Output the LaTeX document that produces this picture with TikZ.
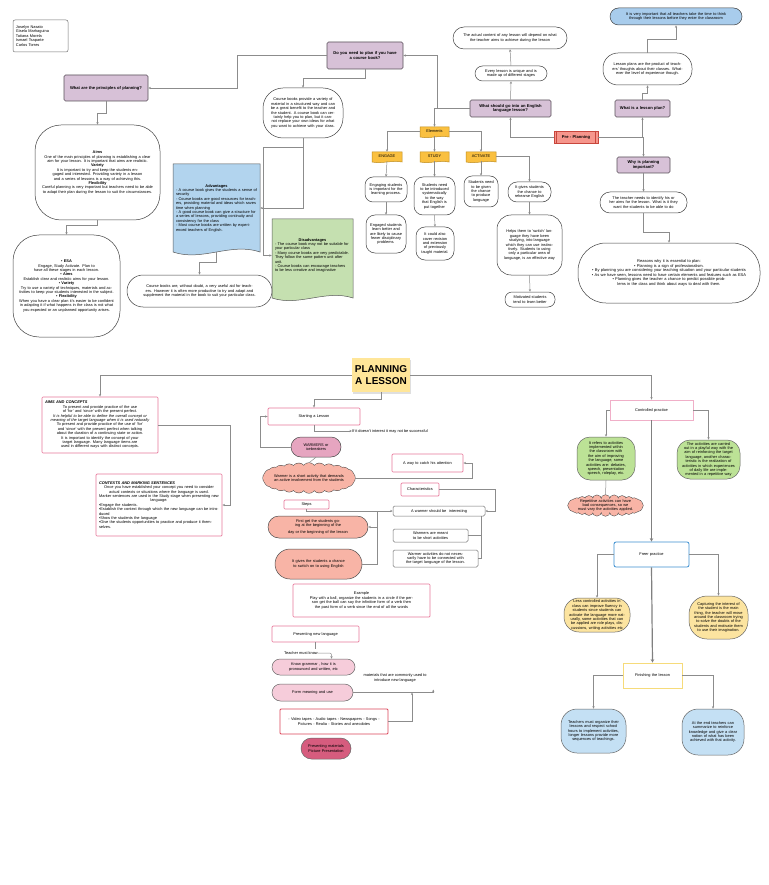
\documentclass[tikz,border=0pt]{standalone}
\usepackage{fontspec}
\setmainfont{Liberation Sans}
\usetikzlibrary{arrows.meta,calc,shapes.misc,shadows}
\definecolor{linec}{RGB}{140,140,140}
\definecolor{purp}{RGB}{215,193,215}
\definecolor{purpd}{RGB}{90,80,90}
\definecolor{bluead}{RGB}{178,212,238}
\definecolor{greend}{RGB}{197,224,176}
\definecolor{blueimp}{RGB}{168,204,236}
\definecolor{salm}{RGB}{246,150,140}
\definecolor{salmd}{RGB}{200,70,60}
\definecolor{ylw}{RGB}{250,192,64}
\definecolor{ylwd}{RGB}{190,140,30}
\definecolor{pinkb}{RGB}{232,120,155}
\definecolor{wpink}{RGB}{230,165,192}
\definecolor{cloudc}{RGB}{248,180,166}
\definecolor{lpink}{RGB}{246,204,218}
\definecolor{dpink}{RGB}{214,92,126}
\definecolor{titlec}{RGB}{255,230,153}
\definecolor{gact}{RGB}{188,226,150}
\definecolor{yact}{RGB}{252,228,160}
\definecolor{bact}{RGB}{196,224,244}
\definecolor{freeb}{RGB}{60,143,208}
\definecolor{finb}{RGB}{246,219,122}
\definecolor{ctrlb}{RGB}{240,175,200}
\definecolor{videob}{RGB}{220,70,90}
\newcommand\fsm{\fontsize{3.9}{4.4}\selectfont}
\newcommand\fsb{\fontsize{4.1}{4.8}\selectfont\bfseries}
\newcommand\mybx[8][3]{%
 \pgfmathsetmacro\mbw{#5-#3}\pgfmathsetmacro\mbh{#6-#4}%
 \pgfmathsetmacro\mbcx{(#3+#5)/2}\pgfmathsetmacro\mbcy{(#4+#6)/2}%
 \pgfmathsetmacro\mbtw{#5-#3-2*#1}%
 \node[bs,#7,minimum width=\mbw pt,minimum height=\mbh pt,text width=\mbtw pt] (#2) at (\mbcx,\mbcy) {#8};}
\newcommand\mydoc[6]{%
 \draw[#6] (#1,#2) -- (#3,#2) -- (#3,#4) .. controls ({#1+(#3-#1)*2/3},{#4-#5}) and ({#1+(#3-#1)/3},{#4+#5}) .. (#1,#4) -- cycle;}
\newcommand\mycloud[5]{%
 \pgfmathsetmacro\ccx{(#1+#3)/2}\pgfmathsetmacro\ccy{(#2+#4)/2}%
 \pgfmathsetmacro\cra{(#3-#1)/2}\pgfmathsetmacro\crb{(#4-#2)/2}%
 \pgfmathsetmacro\cpr{\crb*0.42}%
 \pgfmathsetmacro\cea{\cra-\cpr}\pgfmathsetmacro\ceb{\crb-\cpr}%
 \foreach \ang in {0,15,...,345}{\filldraw[draw=black!70,line width=1pt,fill=#5] ({\ccx+\cea*cos(\ang)},{\ccy+\ceb*sin(\ang)}) circle[radius=\cpr pt];}%
 \foreach \ang in {0,15,...,345}{\fill[#5] ({\ccx+\cea*cos(\ang)},{\ccy+\ceb*sin(\ang)}) circle[radius=\cpr pt];}%
 \fill[#5] (\ccx,\ccy) ellipse[x radius=\cea pt, y radius=\ceb pt];}
\begin{document}
\begin{tikzpicture}[x=1pt,y=-1pt,
 bs/.style={inner sep=0pt,align=center,font=\fsm},
 purpbox/.style={draw=purpd,fill=purp,rounded corners=1.5pt,font=\fsb,line width=.6pt},
 blob/.style={draw=black!75,fill=white,line width=.5pt,rounded corners=#1pt},
 pbox/.style={draw=pinkb,fill=white,line width=.7pt,rounded corners=1pt},
 gbox/.style={draw=black!55,fill=white,line width=.5pt,rounded corners=1.5pt},
 ydoc/.style={draw=ylwd,fill=ylw,line width=.5pt},
 line/.style={draw=linec,line width=.5pt},
 arr/.style={line,-{Stealth[length=2.6pt,width=2.2pt]}},
 tarr/.style={draw=black!50,line width=1.2pt,-{Stealth[length=3.5pt,width=3.5pt]}}]
\useasboundingbox (0,0) rectangle (768,885);
\fill[white] (0,0) rectangle (768,885);

% ---------------- TOP HALF ----------------
\mybx[3]{names}{13}{20}{68}{52}{gbox,align=left,rounded corners=2pt}{Joselyn Nasato\\Gisela Marhaguina\\Tatiana Morela\\Ismael Tsaparte\\Carlos Torres}
\mybx[4]{princ}{64}{75}{148}{101}{purpbox}{What are the principles of planning?}
\mybx[2]{aims}{35}{125}{160}{220}{blob=26}{\textbf{Aims}\\One of the main principles of planning is establishing a clear aim for your lesson. It is important that aims are realistic.\\\textbf{Variety}\\It is important to try and keep the students engaged and interested. Providing variety in a lesson and a series of lessons is a way of achieving this.\\\textbf{Flexibility}\\Careful planning is very important but teachers need to be able to adapt their plan during the lesson to suit the circumstances.}
\mybx[3]{esa}{13}{235}{120}{337}{blob=26}{\textbf{• ESA}\\Engage, Study Activate. Plan to have all these stages in each lesson.\\\textbf{• Aims}\\Establish clear and realistic aims for your lesson.\\\textbf{• Variety}\\Try to use a variety of techniques, materials and activities to keep your students interested in the subject.\\\textbf{• Flexibility}\\When you have a clear plan it's easier to be confident in adapting it if what happens in the class is not what you expected or an unplanned opportunity arises.}
\mybx[4]{dyn}{327}{42}{403}{69}{purpbox}{Do you need to plan if you have\\a course book?}
\mybx[3]{cb}{263}{88}{343}{138}{blob=20}{Course books provide a variety of material in a structured way and can be a great benefit to the teacher and\\the student. A course book can certainly help you to plan, but it cannot replace your own ideas for what you want to achieve with your class.}
\mydoc{173}{164}{260}{252}{10}{draw=black!65,fill=bluead,line width=.5pt}
\mybx[3]{adv}{173}{164}{260}{252}{align=left}{{\centering\textbf{Advantages}\par}- A course book gives the students a sense of security\\- Course books are good resources for teachers, providing material and ideas which saves time when planning\\- A good course book can give a structure for a series of lessons, providing continuity and consistency for the class\\- Most course books are written by experienced teachers of English.}
\mydoc{272}{219}{353}{298}{9}{draw=black!65,fill=greend,line width=.5pt}
\mybx[3]{dis}{272}{219}{353}{292}{align=left}{{\centering\textbf{Disadvantages}\par}- The course book may not be suitable for your particular class\\- Many course books are very predictable. They follow the same pattern unit after unit.\\- Course books can encourage teachers to be less creative and imaginative}
\mybx[6]{cbb}{127}{275}{272}{307}{blob=16}{Course books are, without doubt, a very useful aid for teachers. However it is often more productive to try and adapt and supplement the material in the book to suit your particular class.}

\mybx[4]{wsg}{470}{100}{551}{117}{purpbox}{What should go into an English\\language lesson?}
\mybx[4]{every}{475}{66}{547}{81}{blob=7.5}{Every lesson is unique and is\\made up of different stages}
\mybx[6]{actual}{453}{27}{567}{49}{blob=11}{The actual content of any lesson will depend on what\\the teacher aims to achieve during the lesson}
\mybx[5]{pre}{554}{131}{598}{143}{draw=salmd,fill=salm,line width=.6pt,font=\fsb}{Pre - Planning}
\draw[salmd,line width=.5pt] ($(pre.north west)+(3,0)$) -- ($(pre.south west)+(3,0)$);
\draw[salmd,line width=.5pt] ($(pre.north east)+(-3,0)$) -- ($(pre.south east)+(-3,0)$);
\mybx[3]{wlp}{615}{100}{670}{117}{purpbox}{What is a lesson plan?}
\mybx[5]{lpp}{603}{53}{692}{85}{blob=15}{Lesson plans are the product of teachers' thoughts about their classes. Whatever the level of experience though.}
\mybx[6]{imp}{610}{8}{742}{25}{blob=8.5,fill=blueimp}{It is very important that all teachers take the time to think\\through their lessons before they enter the classroom}
\mybx[3]{why}{617}{157}{670}{173}{purpbox}{Why is planning\\important?}
\mybx[5]{tni}{600}{192}{687}{213}{blob=10}{The teacher needs to identify his or her aims for the lesson. What is it they want the students to be able to do}
\mybx[2]{reasons}{578}{243}{760}{303}{blob=28,font=\fontsize{4}{4.6}\selectfont}{Reasons why it is essential to plan:\\• Planning is a sign of professionalism.\\• By planning you are considering your teaching situation and your particular students\\• As we have seen, lessons need to have certain elements and features such as ESA\\• Planning gives the teacher a chance to predict possible problems in the class and think about ways to deal with them.}

\mydoc{420}{127}{449}{137}{2}{ydoc}
\mybx[1]{elements}{420}{127}{449}{136}{}{Elements}
\mydoc{372}{152}{402}{162}{2}{ydoc}
\mybx[1]{engage}{372}{152}{402}{161}{}{ENGAGE}
\mydoc{420}{152}{449}{162}{2}{ydoc}
\mybx[1]{study}{420}{152}{449}{161}{}{STUDY}
\mydoc{466}{152}{496}{162}{2}{ydoc}
\mybx[1]{activate}{466}{152}{496}{161}{}{ACTIVATE}
\mybx[3]{e1}{365}{177}{407}{202}{blob=8}{Engaging students is important for the learning process.}
\mybx[4]{e2}{366}{215}{406}{253}{blob=9}{Engaged students learn better and are likely to cause fewer disciplinary problems.}
\mybx[4]{s1}{414}{177}{455}{215}{blob=9}{Students need to be introduced systematically to the way that English is put together}
\mybx[4]{s2}{416}{227}{454}{260}{blob=9}{It could also cover revision and extension of previously taught material.}
\mybx[4]{a1}{464}{176}{498}{207}{blob=8}{Students need to be given the chance to produce language}
\mybx[4]{a2}{508}{182}{551}{202}{blob=9}{It gives students the chance to rehearse English}
\mybx[5]{a3}{497}{215}{562}{275}{blob=14}{Helps them to 'switch' language they have been studying, into language which they can use instinctively. Students to using only a particular area of language, is an effective way}
\mybx[4]{a4}{505}{292}{555}{307}{blob=7}{Motivated students tend to learn better}

% top connectors
\draw[arr] (dyn.west) -- (237,55.5) |- (princ.east);
\draw[arr] (princ.south) -- ++(0,12) -| (aims.north);
\draw[arr] (aims.south) -- ++(0,5) -| (esa.north);
\draw[arr] (dyn.south) -- ++(0,9) -| (cb.north);
\draw[arr] (cb.south) |- (adv.east);
\draw[arr] (cb.south) -- ++(0,9) -| ($(dis.west)+(-9,0)$) -- (dis.west);
\draw[arr] (adv.south) -- ++(0,10) -| (cbb.north);
\draw[arr] (wsg.west) -- (437,108.5) |- (dyn.east);
\draw[arr] (wsg.west) -| (elements.north);
\draw[arr] (wsg.north) -- (every.south);
\draw[arr] (every.north) -- (actual.south);
\draw[arr] (pre.west) -| (wsg.south);
\draw[arr] (pre.east) -| (wlp.south);
\draw[arr] (pre.east) -| (why.north);
\draw[arr] (wlp.north) -- ++(0,-6) -| (lpp.south);
\draw[arr] (lpp.north) -- ++(0,-13) -| (imp.south);
\draw[arr] (why.south) -- (tni.north);
\draw[arr] (tni.south) -- ++(0,19) -| (reasons.north);
\draw[arr] (elements.west) -| (engage.north);
\draw[arr] (elements.south) -- (study.north);
\draw[arr] (elements.east) -| (activate.north);
\draw[arr] (engage.south) -- (e1.north);
\draw[arr] (e1.south) -- (e2.north);
\draw[arr] (study.south) -- (s1.north);
\draw[arr] (s1.south) -- (s2.north);
\draw[arr] (activate.south) -- (a1.north);
\draw[arr] (activate.east) -| (a2.north);
\draw[arr] (a2.south) -- (a3.north);
\draw[arr] (a3.south) -- (a4.north);

% ---------------- BOTTOM HALF ----------------
\mybx[2]{title}{352}{358}{410}{392}{fill=titlec,drop shadow={opacity=.25,shadow xshift=.8pt,shadow yshift=-1.5pt},font=\fontsize{10}{12}\selectfont\bfseries}{PLANNING\\A LESSON}
\mybx[3]{aimsc}{42}{397}{158}{453}{pbox}{{\raggedright\bfseries\itshape AIMS AND CONCEPTS\par}To present and provide practice of the use of 'for' and 'since' with the present perfect.\\{\itshape It is helpful to be able to define the overall concept or meaning of the target language when it is used naturally}\\To present and provide practice of the use of 'for' and 'since' with the present perfect when talking about the duration of a continuing state or action.\\It is important to identify the concept of your target language. Many language items are used in different ways with distinct concepts.}
\mybx[3]{ctx}{96}{474}{222}{536}{pbox,align=left}{{\bfseries\itshape CONTEXTS AND MARKING SENTENCES\par}{\centering Once you have established your concept you need to consider actual contexts or situations where the language is used.\\Marker sentences are used in the Study stage when presenting new language.\par}•Engage the students.\\•Establish the context through which the new language can be introduced\\•Show the students the language\\•Give the students opportunities to practice and produce it themselves.}
\mybx{start}{268}{408}{360}{425}{pbox}{Starting a Lesson}
\node[bs,anchor=west] (noint) at (352,431) {If it doesn't interest it may not be successful};
\mybx[4]{warmers}{291}{437}{341}{457}{draw=black!70,fill=wpink,rounded corners=10pt,line width=.5pt}{WARMERS or\\icebreakers}
\mycloud{263}{463}{355}{493}{cloudc}
\mybx[6]{cloud1}{263}{463}{355}{493}{}{Warmer is a short activity that demands an active involvement from the students}
\mybx{catch}{392}{454}{463}{472}{pbox}{A way to catch his attention}
\mybx{charac}{401}{483}{439}{496}{pbox}{Characteristics}
\mybx{steps}{284}{500}{329}{509}{pbox}{Steps}
\mybx{winter}{393}{506}{485}{516}{gbox}{A warmer should be \ interesting}
\mybx[6]{first}{268}{516}{368}{538}{draw=black!70,fill=cloudc,rounded corners=11pt,line width=.5pt}{First get the students going at the beginning of the\\[3pt]day or the beginning of the lesson}
\mybx[6]{gives}{275}{549}{362}{579}{draw=black!70,fill=cloudc,rounded corners=15pt,line width=.5pt}{It gives the students a chance to switch on to using English}
\mybx[4]{short}{393}{529}{468}{542}{gbox}{Warmers are meant to be short activities}
\mybx[3]{notnec}{393}{550}{478}{567}{gbox}{Warmer activities do not necessarily have to be connected with the target language of the lesson.}
\mybx[6]{example}{293}{584}{430}{617}{pbox}{Example\\Play with a ball, organize the students in a circle if the person get the ball can say the infinitive form of a verb then the past form of a verb since the end of all the words}
\mybx{present}{272}{626}{359}{642}{pbox}{Presenting new language}
\node[bs,anchor=west] (tmk) at (284,653) {Teacher must know};
\mybx[6]{know}{272}{659}{355}{675}{draw=black!60,fill=lpink,rounded corners=8pt,line width=.5pt}{Know grammar , how it is\\pronounced and written, etc}
\mybx[6]{form}{272}{684}{353}{701}{draw=black!60,fill=lpink,rounded corners=8.5pt,line width=.5pt}{Form meaning and use}
\node[bs] (matl) at (395,678) {materials that are commonly used to\\introduce new language};
\mybx[4]{video}{280}{709}{388}{734}{draw=videob,line width=.8pt,rounded corners=1pt,fill=white}{- Video tapes - Audio tapes - Newspapers - Songs -\\Pictures - Realia - Stories and anecdotes}
\mybx[3]{pmat}{301}{738}{351}{759}{draw=black!60,fill=dpink,rounded corners=10.5pt,line width=.5pt}{Presenting materials\\Picture Presentation}

\mybx{ctrl}{610}{400}{693}{420}{draw=ctrlb,line width=.7pt,fill=white}{Controlled practice}
\mybx[5]{g1}{577}{437}{635}{480}{draw=black!60,fill=gact,rounded corners=13pt,line width=.5pt}{It refers to activities implemented within the classroom with the aim of improving the language, some activities are: debates, speech, presentation speech, roleplay, etc.}
\mybx[5]{g2}{677}{440}{740}{479}{draw=black!60,fill=gact,rounded corners=13pt,line width=.5pt}{The activities are carried out in a playful way with the aim of reinforcing the target language, another characteristic is the realization of activities in which experiences of daily life are implemented in a repetitive way}
\mycloud{568}{495}{643}{516}{cloudc}
\mybx[6]{cloud2}{568}{495}{643}{516}{}{Repetitive activities can have bad consequences, so we must vary the activities applied.}
\mybx{freer}{614}{542}{689}{567}{draw=freeb,line width=.8pt,rounded corners=2pt,fill=white}{Freer practice}
\mybx[5]{y1}{564}{598}{630}{632}{draw=black!60,fill=yact,rounded corners=15pt,line width=.5pt}{Less controlled activities in class can improve fluency in students since students can activate the language more naturally, some activities that can be applied are role plays, discussions, writing activities etc}
\mybx[5]{y2}{689}{596}{748}{639}{draw=black!60,fill=yact,rounded corners=18pt,line width=.5pt}{Capturing the interest of the student is the main thing, the teacher will move around the classroom trying to solve the doubts of the students and motivate them to use their imagination.}
\mybx{fin}{623}{663}{682}{688}{draw=finb,line width=.7pt,fill=white}{Finishing the lesson}
\mybx[4]{b1}{561}{709}{626}{753}{draw=black!60,fill=bact,rounded corners=16pt,line width=.5pt}{Teachers must organize their lessons and respect school hours to implement activities, longer lessons provide more sequences of teachings.}
\mybx[4]{b2}{682}{709}{744}{755}{draw=black!60,fill=bact,rounded corners=16pt,line width=.5pt}{At the end teachers can summarize to reinforce knowledge and give a clear notion of what has been achieved with that activity.}

% bottom connectors
\draw[arr] (title.west) -| (aimsc.north);
\draw[arr] (title.east) -| (ctrl.north);
\draw[arr] (aimsc.east) -- ++(72,0) |- (ctx.east);
\draw[arr] (title.south) -- ++(0,7) -| (start.north);
\draw[arr] (start.south) |- (noint.west);
\draw[arr] (warmers.west) -- ++(-31,0) |- (start.west);
\draw[line] (warmers.south) -- (cloud1.north);
\draw[arr] (cloud1.east) -- (472,478) |- (catch.east);
\draw[arr] (charac.east) -- (495,489.5) |- (winter.east);
\draw[arr] (steps.south) |- (winter.west);
\coordinate (j1) at (377,511);
\draw[arr] (j1) |- (first.east);
\draw[line] (j1) |- (gives.east);
\coordinate (j2) at (481,516);
\draw[line] (j2) |- (short.east);
\draw[line] (j2) |- (notnec.east);
\draw[line] (present.south) -- ++(0,7);
\draw[arr,rounded corners=2pt] (tmk.east) -| ($(know.north)+(18,0)$);
\draw[arr] (form.east) -- ++(80,0) -- ++(0,-3);
\draw[arr] (video.east) -| (412,692.5);
\draw[arr] (ctrl.west) -| (g1.north);
\draw[arr] (ctrl.east) -| (g2.north);
\draw[line] (g1.south) -- (cloud2.north);
\draw[tarr] (ctrl.south) -- (freer.north);
\draw[arr] (freer.west) -| (y1.north);
\draw[arr] (freer.east) -| (y2.north);
\draw[tarr] (freer.south) -- (fin.north);
\draw[arr] (fin.west) -| (b1.north);
\draw[arr] (fin.east) -| (b2.north);
\end{tikzpicture}
\end{document}
